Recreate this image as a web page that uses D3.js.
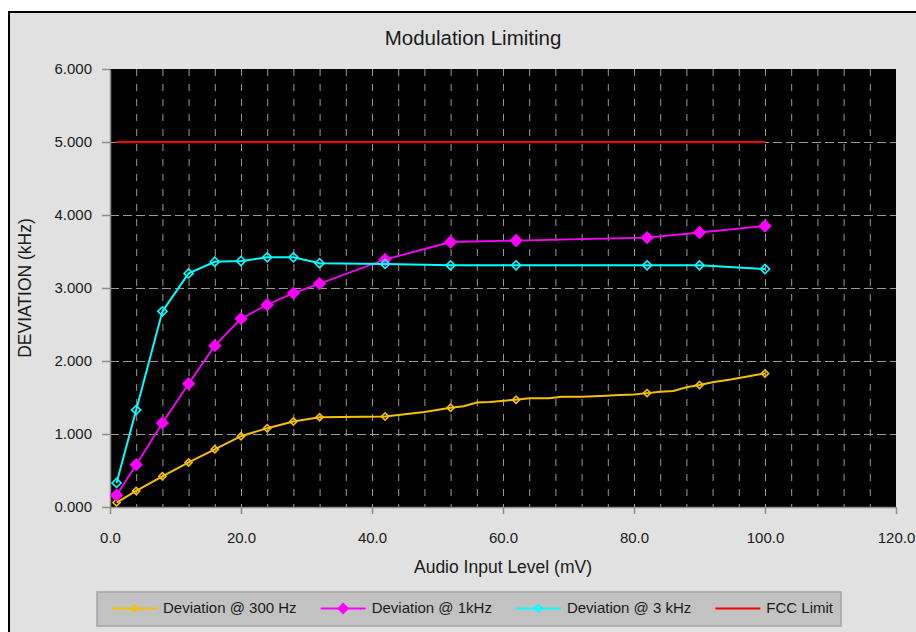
<!DOCTYPE html>
<html>
<head>
<meta charset="utf-8">
<script src="https://cdnjs.cloudflare.com/ajax/libs/d3/7.8.5/d3.min.js"></script>
<style>
body { margin: 0; background: #fff; }
text { font-family: "Liberation Sans", Arial, sans-serif; fill: #1a1a1a; }
</style>
</head>
<body>
<svg id="chart" width="916" height="632"></svg>
<script>
// measured points (mV)
const inputLevels = [1, 4, 8, 12, 16, 20, 24, 28, 32, 42, 52, 62, 82, 90, 100];
const dev300 = [0.06, 0.22, 0.42, 0.61, 0.79, 0.97, 1.08, 1.17, 1.23, 1.24, 1.36, 1.47, 1.56, 1.67, 1.83];
const dev1k = [0.16, 0.58, 1.15, 1.69, 2.21, 2.58, 2.77, 2.93, 3.06, 3.39, 3.63, 3.65, 3.69, 3.76, 3.85];
const dev3k = [0.33, 1.33, 2.68, 3.20, 3.36, 3.37, 3.42, 3.42, 3.34, 3.33, 3.31, 3.31, 3.31, 3.31, 3.26];

// the 300 Hz trace has extra readings without markers
const trace300Levels = [48, 54, 56, 58, 64, 67, 69, 72, 75, 77, 80, 84, 86, 88, 92, 95];
const trace300 = [1.30, 1.38, 1.43, 1.44, 1.49, 1.49, 1.51, 1.51, 1.52, 1.53, 1.54, 1.58, 1.59, 1.64, 1.71, 1.75];

const fccLevels = [1, 100];
const fccLimit = [5, 5];

const xTicks = [0, 20, 40, 60, 80, 100, 120];
const yTicks = [0, 1, 2, 3, 4, 5, 6];

const legendLabels = ['Deviation @ 300 Hz', 'Deviation @ 1kHz', 'Deviation @ 3 kHz', 'FCC Limit'];
const colors = ['#f7c000', '#ff00ff', '#00ffff', '#ff0000'];

const svg = d3.select('#chart');

// chart background with black frame
svg.append('rect')
    .attr('x', 9).attr('y', 12)
    .attr('width', 940).attr('height', 660)
    .attr('fill', '#e1e1e1')
    .attr('stroke', '#000')
    .attr('stroke-width', 2);

const x = d3.scaleLinear().domain([0, 120]).range([110, 896]);
const y = d3.scaleLinear().domain([0, 6]).range([507, 69]);

// plot area
svg.append('rect')
    .attr('x', x(0)).attr('y', y(6))
    .attr('width', x(120) - x(0)).attr('height', y(0) - y(6))
    .attr('fill', '#000');

// grid
const grid = svg.append('g').attr('stroke', '#9a9a9a').attr('stroke-width', 1);
grid.selectAll('.vg')
    .data(d3.range(4, 120, 4))
    .join('line')
    .attr('x1', d => x(d) + 0.5).attr('x2', d => x(d) + 0.5)
    .attr('y1', y(6)).attr('y2', y(0))
    .attr('stroke-dasharray', '7,8');
grid.selectAll('.hg')
    .data(yTicks.filter(d => d > 0 && d < 6))
    .join('line')
    .attr('x1', x(0)).attr('x2', x(120))
    .attr('y1', d => y(d) + 0.5).attr('y2', d => y(d) + 0.5)
    .attr('stroke-dasharray', '9,4');

// axes
const yAxis = svg.append('g')
    .attr('transform', `translate(${x(0)},0)`)
    .call(d3.axisLeft(y).tickValues(yTicks).tickFormat(d3.format('.3f'))
        .tickSizeInner(8).tickSizeOuter(0).tickPadding(10));
const xAxis = svg.append('g')
    .attr('transform', `translate(0,${y(0)})`)
    .call(d3.axisBottom(x).tickValues(xTicks).tickFormat(d3.format('.1f'))
        .tickSizeInner(7).tickSizeOuter(0).tickPadding(18));
[xAxis, yAxis].forEach(ax => {
    ax.select('.domain').attr('stroke', '#8c8c8c').attr('stroke-width', 1.5);
    ax.selectAll('.tick line').attr('stroke', '#8c8c8c').attr('stroke-width', 1.5);
    ax.selectAll('.tick text')
        .style('font-family', '"Liberation Sans", Arial, sans-serif')
        .style('font-size', '15px')
        .attr('fill', '#1a1a1a');
});

// series
const line = d3.line().x(d => x(d[0])).y(d => y(d[1]));
const pts = (xs, ys) => xs.map((v, i) => [v, ys[i]]);

const pts300 = pts(inputLevels, dev300);
const line300 = pts300.concat(pts(trace300Levels, trace300)).sort((a, b) => a[0] - b[0]);

const series = [
    { path: line300, marks: pts300, color: colors[0], width: 2, size: 26, fill: 'none' },
    { path: pts(inputLevels, dev1k), marks: pts(inputLevels, dev1k), color: colors[1], width: 1.8, size: 62, fill: colors[1] },
    { path: pts(inputLevels, dev3k), marks: pts(inputLevels, dev3k), color: colors[2], width: 2, size: 42, fill: 'none' },
    { path: pts(fccLevels, fccLimit), marks: [], color: colors[3], width: 2, size: 0, fill: 'none' }
];

series.forEach(s => {
    svg.append('path')
        .attr('d', line(s.path))
        .attr('fill', 'none')
        .attr('stroke', s.color)
        .attr('stroke-width', s.width);
    svg.append('g').selectAll('path')
        .data(s.marks)
        .join('path')
        .attr('d', d3.symbol(d3.symbolSquare, s.size))
        .attr('transform', d => `translate(${x(d[0])},${y(d[1])}) rotate(45)`)
        .attr('fill', s.fill)
        .attr('stroke', s.color)
        .attr('stroke-width', 1.6);
});

// titles
svg.append('text')
    .attr('x', 473).attr('y', 45)
    .attr('text-anchor', 'middle')
    .style('font-size', '20.5px')
    .text('Modulation Limiting');
svg.append('text')
    .attr('x', (x(0) + x(120)) / 2).attr('y', 573)
    .attr('text-anchor', 'middle')
    .style('font-size', '17.5px')
    .text('Audio Input Level (mV)');
svg.append('text')
    .attr('transform', `translate(31,${(y(0) + y(6)) / 2}) rotate(-90)`)
    .attr('text-anchor', 'middle')
    .style('font-size', '17.5px')
    .text('DEVIATION (kHz)');

// legend
const legend = svg.append('g');
legend.append('rect')
    .attr('x', 97).attr('y', 592)
    .attr('width', 744).attr('height', 34)
    .attr('fill', '#c2c2c2')
    .attr('stroke', '#a4a4a4')
    .attr('stroke-width', 1.5);

let lx = 112;
legendLabels.forEach((label, i) => {
    const s = series[i];
    legend.append('line')
        .attr('x1', lx).attr('x2', lx + 45)
        .attr('y1', 608.5).attr('y2', 608.5)
        .attr('stroke', s.color).attr('stroke-width', 2);
    if (s.size > 0) {
        legend.append('path')
            .attr('d', d3.symbol(d3.symbolSquare, s.size * 0.75))
            .attr('transform', `translate(${lx + 22.5},608.5) rotate(45)`)
            .attr('fill', s.fill)
            .attr('stroke', s.color)
            .attr('stroke-width', 1.6);
    }
    const t = legend.append('text')
        .attr('x', lx + 51).attr('y', 613)
        .style('font-size', '15px')
        .text(label);
    lx += 51 + t.node().getComputedTextLength() + 24;
});
</script>
</body>
</html>
